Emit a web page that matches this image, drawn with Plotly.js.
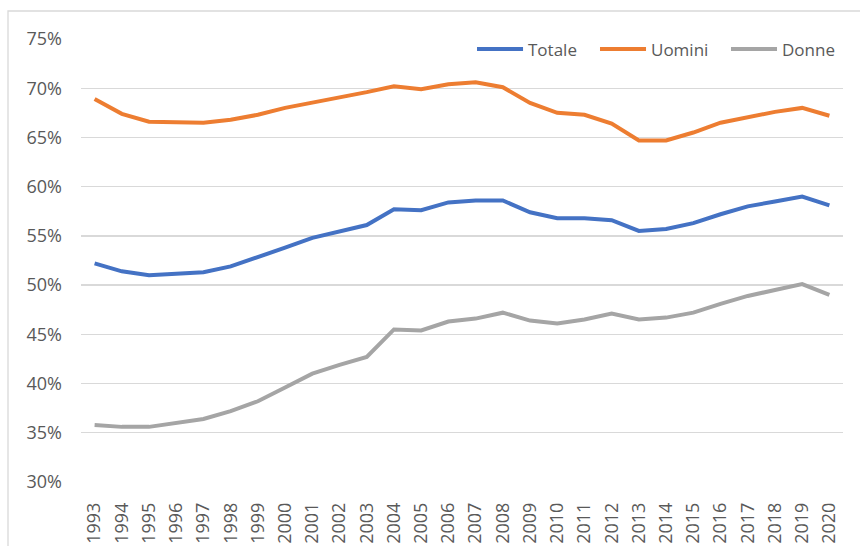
<!DOCTYPE html>
<html>
<head>
<meta charset="utf-8">
<script src="https://cdn.plot.ly/plotly-3.0.1.min.js"></script>
<style>html,body{margin:0;padding:0;background:#fff;}#chart{width:860px;height:546px;}</style>
</head>
<body>
<div id="chart"></div>
<script>
var years = ['1993','1994','1995','1996','1997','1998','1999','2000','2001','2002','2003','2004','2005','2006','2007','2008','2009','2010','2011','2012','2013','2014','2015','2016','2017','2018','2019','2020'];
var totale = [52.2,51.4,51.0,51.2,51.3,51.9,52.8,53.8,54.8,55.5,56.1,57.7,57.6,58.4,58.6,58.6,57.4,56.8,56.8,56.6,55.5,55.7,56.3,57.2,58.0,58.5,59.0,58.1];
var uomini = [68.9,67.4,66.6,66.5,66.5,66.8,67.3,68.0,68.5,69.1,69.6,70.2,69.9,70.4,70.6,70.1,68.5,67.5,67.3,66.4,64.7,64.7,65.5,66.5,67.1,67.6,68.0,67.2];
var donne = [35.8,35.6,35.6,36.0,36.4,37.2,38.2,39.6,41.0,41.9,42.7,45.5,45.4,46.3,46.6,47.2,46.4,46.1,46.5,47.1,46.5,46.7,47.2,48.1,48.9,49.5,50.1,49.0];
var yTicks = [30,35,40,45,50,55,60,65,70,75];
var seriesNames = ['Totale','Uomini','Donne'];
var seriesColors = ['#4472C4','#ED7D31','#A5A5A5'];

var seriesData = [totale, uomini, donne];
var traces = seriesData.map(function(vals, i){
  return {x: years, y: vals, type: 'scatter', mode: 'lines', name: seriesNames[i],
          line: {color: seriesColors[i], width: 4, shape: 'linear'}, hoverinfo: 'x+y'};
});

var tickFont = {family: 'Open Sans, sans-serif', size: 18, color: '#595959'};
var legFont = {family: 'Open Sans, sans-serif', size: 17, color: '#595959'};

// custom legend (line sample + label), placed in paper coordinates
var legendLineX = [[0.5197, 0.5801], [0.6811, 0.7415], [0.8530, 0.9134]];
var legendY = 0.9774;
var shapes = [{type: 'rect', xref: 'paper', yref: 'paper', x0: -0.0958, x1: 1.03, y0: -0.16, y1: 1.0632,
               line: {color: '#D9D9D9', width: 1.3}, fillcolor: 'rgba(0,0,0,0)', layer: 'below'}];
var annotations = [];
seriesNames.forEach(function(n, i){
  shapes.push({type: 'line', xref: 'paper', yref: 'paper', x0: legendLineX[i][0], x1: legendLineX[i][1],
               y0: legendY, y1: legendY, line: {color: seriesColors[i], width: 4}});
  annotations.push({xref: 'paper', yref: 'paper', x: legendLineX[i][1] + 0.004, y: legendY,
                    xanchor: 'left', yanchor: 'middle', text: n, showarrow: false, font: legFont});
});

var layout = {
  width: 860, height: 546,
  margin: {l: 81, r: 17, t: 39, b: 64, pad: 0},
  paper_bgcolor: '#ffffff', plot_bgcolor: '#ffffff',
  font: tickFont,
  showlegend: false,
  xaxis: {type: 'category', range: [-0.5, years.length - 0.5], showgrid: false, zeroline: false,
          showline: false, ticks: '', tickangle: -90, tickfont: tickFont, ticklabelstandoff: 16, fixedrange: true},
  yaxis: {range: [30, 75], tickvals: yTicks, ticktext: yTicks.map(function(v){return v + '%';}),
          showgrid: true, gridcolor: '#D9D9D9', gridwidth: 1.3, zeroline: false, showline: false,
          ticks: '', tickfont: tickFont, ticklabelstandoff: 18, fixedrange: true},
  shapes: shapes,
  annotations: annotations
};
Plotly.newPlot('chart', traces, layout, {displayModeBar: false, staticPlot: true});
</script>
</body>
</html>
